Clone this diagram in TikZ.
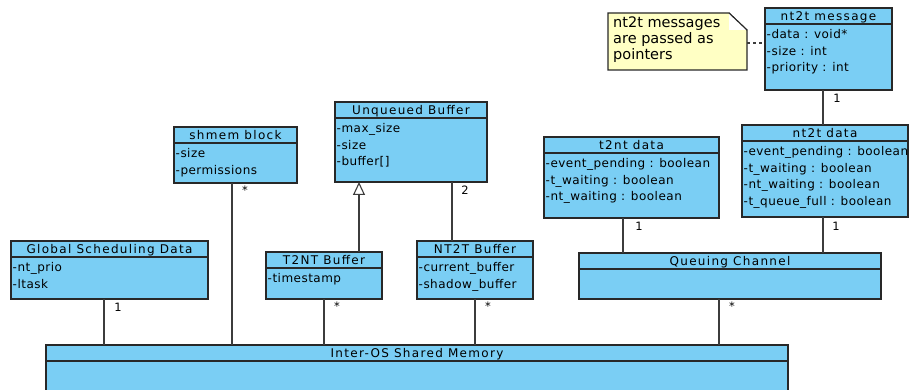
\documentclass[tikz,border=0pt]{standalone}
\usepackage{fontspec}
\setmainfont{DejaVu Sans}
\newfontfamily\titlefamily[LetterSpace=11]{DejaVu Sans}
\newfontfamily\attrfamily[LetterSpace=4]{DejaVu Sans}
\usetikzlibrary{calc,arrows.meta}

\definecolor{classfill}{RGB}{122,206,244}
\definecolor{notefill}{RGB}{255,255,196}
\definecolor{edgecol}{RGB}{40,40,40}
\definecolor{linkcol}{RGB}{60,60,60}

\tikzset{
  clsbox/.style={draw=edgecol, fill=classfill, line width=1.2pt, inner sep=0pt, outer sep=0pt, rectangle},
  clsline/.style={draw=edgecol, line width=1.2pt},
  clstitle/.style={font=\titlefamily\fontsize{12}{14}\selectfont, inner sep=0pt, anchor=base},
  clsattr/.style={font=\attrfamily\fontsize{12}{16.5}\selectfont, inner sep=0pt, align=left, anchor=north west},
  link/.style={draw=linkcol, line width=1.1pt},
  mult/.style={font=\fontsize{11.5}{13}\selectfont, inner sep=0pt},
  notebox/.style={inner sep=0pt, outer sep=0pt, rectangle},
  notetext/.style={font=\fontsize{14.5}{16}\selectfont, inner sep=0pt, align=left, anchor=north west},
}

% class box: name, x1, y1, x2, y2, title, attributes
\newcommand\classbox[7]{%
  \node[clsbox, anchor=north west, minimum width={#4pt-#2pt}, minimum height={#5pt-#3pt}] (#1) at (#2,#3) {};
  \draw[clsline] (#1.north west) ++(0,16) -- ++({#4-#2},0);
  \node[clstitle] (#1-title) at ($(#1.north)+(0,12.5)$) {#6};
  \node[clsattr] (#1-attrs) at ($(#1.north west)+(1.5,21.5)$) {#7};
}

\begin{document}
\begin{tikzpicture}[x=1pt, y=-1pt]
  \useasboundingbox (0,0) rectangle (910,390);
  \clip (0,0) rectangle (910,390);
  \fill[white] (0,0) rectangle (910,390);

  % classes
  \classbox{msg}{765}{8}{892}{90}{nt2t message}{-data : void*\\-size : int\\-priority : int}
  \classbox{unq}{335}{102}{487}{182}{Unqueued Buffer}{-max\_size\\-size\\-buffer[]}
  \classbox{shm}{174}{127}{297}{183}{shmem block}{-size\\-permissions}
  \classbox{tnd}{544}{137}{719}{218}{t2nt data}{-event\_pending : boolean\\-t\_waiting : boolean\\-nt\_waiting : boolean}
  \classbox{ntd}{742}{125}{908}{217}{nt2t data}{-event\_pending : boolean\\-t\_waiting : boolean\\-nt\_waiting : boolean\\-t\_queue\_full : boolean}
  \classbox{gsd}{11}{241}{208}{299}{Global Scheduling Data}{-nt\_prio\\-ltask}
  \classbox{tnb}{266}{252}{382}{299}{T2NT Buffer}{-timestamp}
  \classbox{ntb}{417}{241}{533}{299}{NT2T Buffer}{-current\_buffer\\-shadow\_buffer}
  \classbox{qch}{579}{253}{881}{299}{Queuing Channel}{}
  \classbox{shared}{46}{345}{788}{420}{Inter-OS Shared Memory}{}

  % note with folded corner
  \node[notebox, anchor=north west, minimum width=139pt, minimum height=57pt] (note) at (608,13) {};
  \draw[edgecol, line width=1.1pt, fill=notefill]
    (note.north west) -- ($(note.north east)+(-18,0)$) -- ($(note.north east)+(0,17)$)
    -- (note.south east) -- (note.south west) -- cycle;
  \fill[white] ($(note.north east)+(-18,0)$) -- ($(note.north east)+(0,17)$) -- ($(note.north east)+(-18,17)$) -- cycle;
  \draw[edgecol, line width=1.1pt] ($(note.north east)+(-18,0)$) -- ($(note.north east)+(0,17)$);
  \node[notetext] (note-text) at ($(note.north west)+(5,4)$) {nt2t messages\\are passed as\\pointers};

  % x positions of connectors
  \coordinate (cGsd) at (104,0);
  \coordinate (cShm) at (232,0);
  \coordinate (cTnb) at (324,0);
  \coordinate (cInh) at (359,0);
  \coordinate (cUnq) at (452,0);
  \coordinate (cNtb) at (475,0);
  \coordinate (cQch) at (719,0);
  \coordinate (cTnd) at (623,0);
  \coordinate (cNtd) at (823,0);
  \coordinate (cNote) at (0,43);

  % associations
  \draw[link] (gsd.south -| cGsd) -- (shared.north -| cGsd);
  \draw[link] (shm.south -| cShm) -- (shared.north -| cShm);
  \draw[link] (tnb.south -| cTnb) -- (shared.north -| cTnb);
  \draw[link] (ntb.south -| cNtb) -- (shared.north -| cNtb);
  \draw[link] (qch.south -| cQch) -- (shared.north -| cQch);
  \draw[link] (ntb.north -| cUnq) -- (unq.south -| cUnq);
  \draw[link] (tnd.south -| cTnd) -- (qch.north -| cTnd);
  \draw[link] (ntd.south -| cNtd) -- (qch.north -| cNtd);
  \draw[link] (msg.south -| cNtd) -- (ntd.north -| cNtd);

  % generalisation
  \draw[link, -{Triangle[open, length=13pt, width=12pt, line width=1.1pt]}] (tnb.north -| cInh) -- (unq.south -| cInh);

  % note anchor
  \draw[link, dash pattern=on 3pt off 3pt] (note.east |- cNote) -- (msg.west |- cNote);

  % multiplicities
  \node[mult] (m1) at (118,307) {1};
  \node[mult] (m2) at (245,190) {*};
  \node[mult] (m3) at (337,306) {*};
  \node[mult] (m4) at (465,190) {2};
  \node[mult] (m5) at (488,306) {*};
  \node[mult] (m6) at (732,306) {*};
  \node[mult] (m7) at (639,226) {1};
  \node[mult] (m8) at (836,226) {1};
  \node[mult] (m9) at (837,98) {1};
\end{tikzpicture}
\end{document}
